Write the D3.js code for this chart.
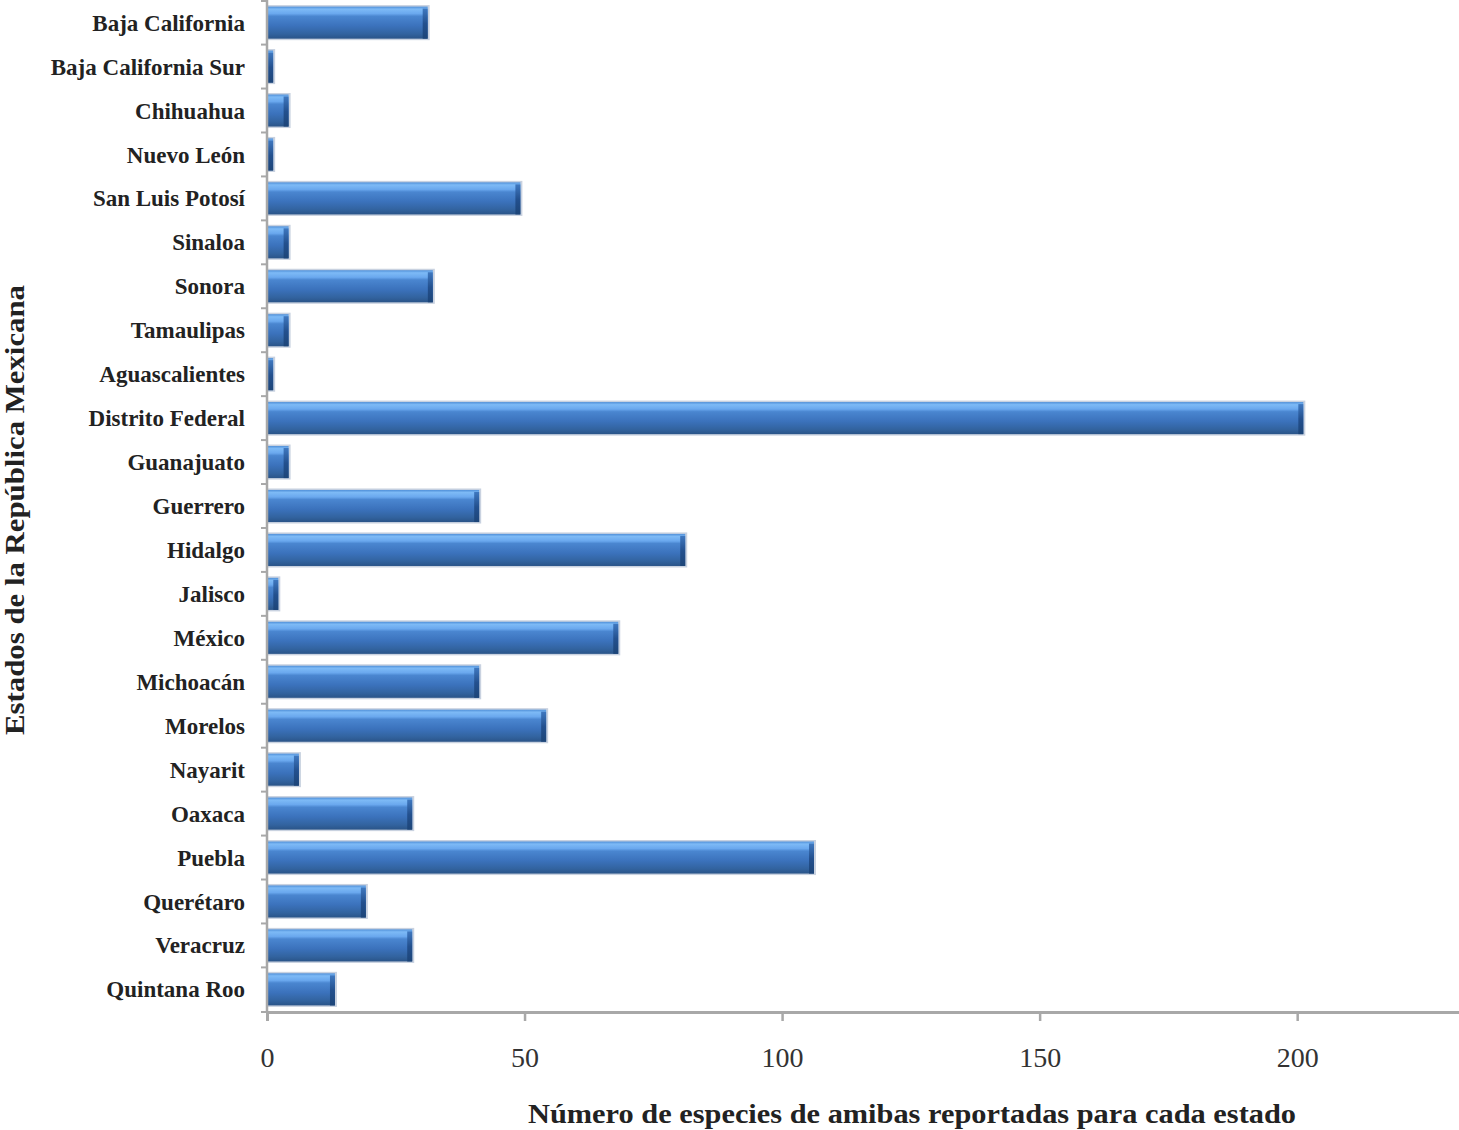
<!DOCTYPE html>
<html><head><meta charset="utf-8">
<script src="https://cdn.jsdelivr.net/npm/d3@7"></script>
<style>body{margin:0;background:#fff}svg{display:block}</style>
</head><body>
<script>
const categories = ["Baja California","Baja California Sur","Chihuahua","Nuevo León","San Luis Potosí","Sinaloa","Sonora","Tamaulipas","Aguascalientes","Distrito Federal","Guanajuato","Guerrero","Hidalgo","Jalisco","México","Michoacán","Morelos","Nayarit","Oaxaca","Puebla","Querétaro","Veracruz","Quintana Roo"];
const values = [31,1,4,1,49,4,32,4,1,201,4,41,81,2,68,41,54,6,28,106,19,28,13];
const xTicks = [0,50,100,150,200];
const xTitle = "Número de especies de amibas reportadas para cada estado";
const yTitle = "Estados de la República Mexicana";

const W = 1459, H = 1130;
const svg = d3.select("body").append("svg").attr("width", W).attr("height", H);
const defs = svg.append("defs");
const g1 = defs.append("linearGradient").attr("id","barg").attr("x1",0).attr("y1",0).attr("x2",0).attr("y2",1);
[[0,"#4f8fd8"],[0.08,"#7dbaf6"],[0.22,"#6aa8ee"],[0.3,"#4a86d0"],[0.6,"#3b72bc"],[0.85,"#32639f"],[1,"#2a5488"]].forEach(([o,c])=>g1.append("stop").attr("offset",o).attr("stop-color",c));
const g2 = defs.append("linearGradient").attr("id","endg").attr("x1",0).attr("y1",0).attr("x2",0).attr("y2",1);
[[0,"#3f78c0"],[0.5,"#23508e"],[1,"#1d4578"]].forEach(([o,c])=>g2.append("stop").attr("offset",o).attr("stop-color",c));

const x = d3.scaleLinear().domain([0, 232]).range([267, 1462]);
const y = d3.scaleBand().domain(categories).range([0, 1012]).paddingInner(0.27).paddingOuter(0.15);

const serif = "'Liberation Serif','DejaVu Serif',serif";

// bars
const bars = svg.append("g").selectAll("g").data(categories).join("g");
bars.append("rect").attr("x", x(0)).attr("y", d=>y(d)-1.5)
  .attr("width", (d,i)=>x(values[i])-x(0)+3).attr("height", y.bandwidth()+3).attr("fill","#c9d2e0");
bars.append("rect").attr("x", x(0)).attr("y", d=>y(d))
  .attr("width", (d,i)=>x(values[i])-x(0)+1).attr("height", y.bandwidth()).attr("fill","url(#barg)");
bars.append("rect").attr("x", (d,i)=>Math.max(x(0), x(values[i])-4)).attr("y", d=>y(d)+2)
  .attr("width", (d,i)=>Math.min(5, x(values[i])-x(0)+1)).attr("height", y.bandwidth()-2).attr("fill","url(#endg)");

// y axis
const yAxisG = svg.append("g").attr("transform","translate(267,0)");
yAxisG.append("line").attr("x1",0).attr("x2",0).attr("y1",0).attr("y2",1012).attr("stroke","#a8a8a8").attr("stroke-width",2.5);
const bounds = categories.map(d=>y(d)-y.step()*y.paddingInner()/2).concat([1012]);
yAxisG.selectAll(".yt").data(bounds).join("line").attr("x1",-6).attr("x2",0)
  .attr("y1",d=>Math.max(1,d)).attr("y2",d=>Math.max(1,d)).attr("stroke","#a8a8a8").attr("stroke-width",2);
svg.append("g").selectAll("text").data(categories).join("text")
  .attr("x",245).attr("y",d=>y(d)+y.bandwidth()/2).attr("dy","0.35em")
  .attr("text-anchor","end").attr("font-family",serif).attr("font-weight","bold")
  .attr("font-size",23).attr("fill","#222").text(d=>d);

// x axis
const xAxis = d3.axisBottom(x).tickValues(xTicks).tickSize(9).tickPadding(26).tickFormat(d3.format("d"));
const xg = svg.append("g").attr("transform","translate(0,1012)").call(xAxis);
xg.select(".domain").attr("stroke","#a8a8a8").attr("stroke-width",3);
xg.selectAll(".tick line").attr("stroke","#a8a8a8").attr("stroke-width",2.5);
xg.selectAll(".tick text").attr("font-family",serif).attr("font-size",28).attr("fill","#333");

// titles
svg.append("text").attr("x",912).attr("y",1123).attr("text-anchor","middle")
  .attr("font-family",serif).attr("font-weight","bold").attr("font-size",27).attr("fill","#222")
  .attr("textLength",768).attr("lengthAdjust","spacingAndGlyphs").text(xTitle);
svg.append("text").attr("transform","translate(24,510) rotate(-90)").attr("text-anchor","middle")
  .attr("font-family",serif).attr("font-weight","bold").attr("font-size",27).attr("fill","#222")
  .attr("textLength",450).attr("lengthAdjust","spacingAndGlyphs").text(yTitle);
</script>
</body></html>
